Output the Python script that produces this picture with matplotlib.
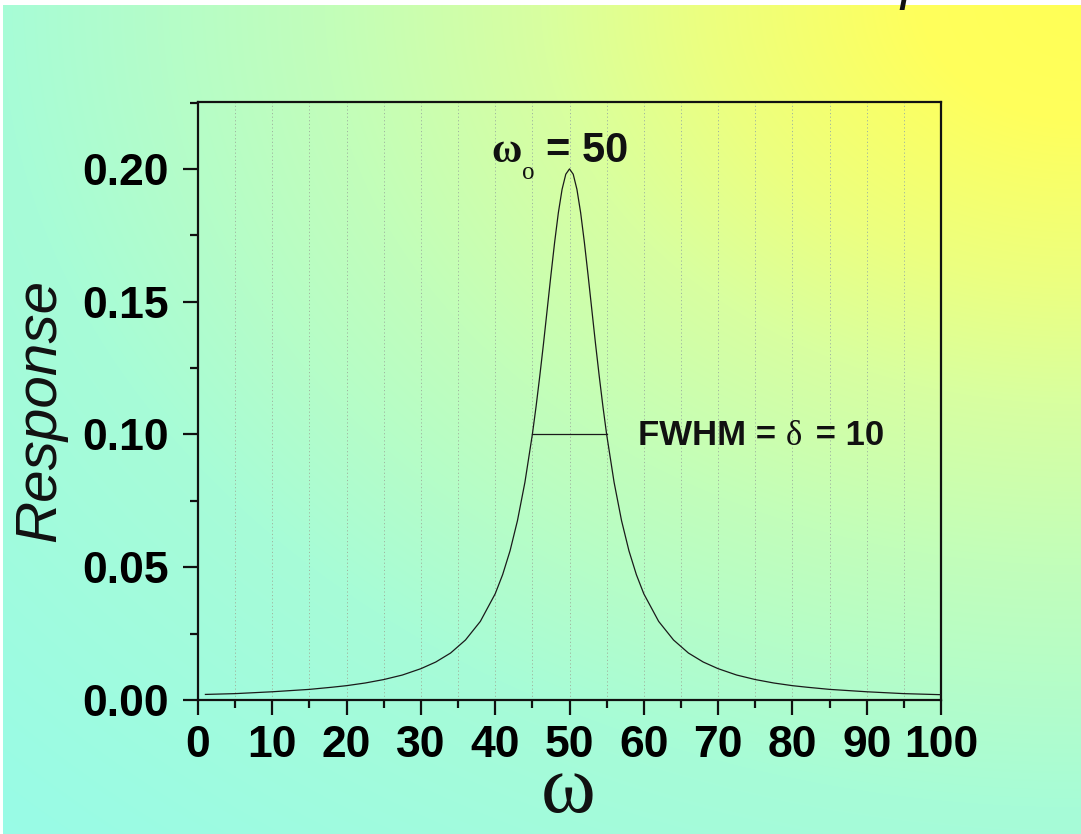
import numpy as np
import matplotlib
matplotlib.use("Agg")
import matplotlib.pyplot as plt
from matplotlib.patches import Rectangle

# ---- data ----
omega = [1, 5, 10, 15, 18, 20, 22.5, 25, 27.5, 30, 32, 34, 36, 38, 40, 41, 42, 43, 44, 45,
         45.5, 46, 46.5, 47, 47.5, 48, 48.5, 49, 49.5, 50,
         50.5, 51, 51.5, 52, 52.5, 53, 53.5, 54, 54.5, 55, 56, 57, 58, 59, 60, 62, 64,
         66, 68, 70, 72.5, 75, 77.5, 80, 82, 85, 90, 95, 100]
response = [0.0021, 0.0024, 0.0031, 0.0040, 0.0048, 0.0054, 0.0064, 0.0077, 0.0094,
            0.0118, 0.0143, 0.0177, 0.0226, 0.0296, 0.0400, 0.0472, 0.0562, 0.0676,
            0.0820, 0.1000, 0.1105, 0.1220, 0.1342, 0.1471, 0.1600, 0.1724, 0.1835,
            0.1923, 0.1980, 0.2000,
            0.1980, 0.1923, 0.1835, 0.1724, 0.1600, 0.1471, 0.1342, 0.1220, 0.1105,
            0.1000, 0.0820, 0.0676, 0.0562, 0.0472, 0.0400, 0.0296, 0.0226,
            0.0177, 0.0143, 0.0118, 0.0094, 0.0077, 0.0064, 0.0054, 0.0048, 0.0040,
            0.0031, 0.0024, 0.0020]
fwhm_x = [45, 55]
fwhm_y = [0.10, 0.10]
x_ticks = [0, 10, 20, 30, 40, 50, 60, 70, 80, 90, 100]
y_ticks = [0.00, 0.05, 0.10, 0.15, 0.20]
y_ticklabels = ["0.00", "0.05", "0.10", "0.15", "0.20"]

W, H = 1081, 834
fig = plt.figure(figsize=(W / 100, H / 100), dpi=100)

def fx(x):
    return x / W

def fy(y):
    return 1 - y / H

# ---- background gradient ----
bg = fig.add_axes([0, 0, 1, 1], zorder=0)
yy, xx = np.mgrid[0:H, 0:W]
dx = (W - xx) / W
dy = yy * 1.34 / W
d = np.sqrt(dx ** 2 + dy ** 2)
stops = [0, 0.15, 0.35, 0.5, 0.7, 1.0, 1.42]
cols = [(255, 255, 86), (255, 255, 92), (236, 255, 128), (216, 255, 160),
        (194, 254, 186), (167, 252, 215), (153, 251, 230)]
img = np.stack([np.interp(d, stops, [c[i] for c in cols]) for i in range(3)], -1) / 255
bg.imshow(img, aspect="auto", extent=[0, W, H, 0], interpolation="bilinear")
bg.set_xlim(0, W)
bg.set_ylim(H, 0)
bg.add_patch(Rectangle((0, 0), W, 5, color="white", lw=0))
bg.add_patch(Rectangle((0, 0), 3, H, color="white", lw=0))
bg.axis("off")

# ---- main axes ----
ax = fig.add_axes([fx(198), fy(700), (941 - 198) / W, (700 - 102) / H], zorder=1)
ax.set_facecolor("none")
ax.plot(omega, response, color="#1a1a1a", lw=0.9, zorder=3)
ax.plot(fwhm_x, fwhm_y, color="#1a1a1a", lw=0.9, zorder=3)
ax.set_xlim(0, 100)
ax.set_ylim(0, 0.2252)

for gx in range(5, 100, 5):
    ax.axvline(gx, color="#9fb59f", lw=0.7, ls=(0, (1.2, 2.5)), zorder=1)

ax.set_xticks(x_ticks)
ax.set_xticks(np.arange(5, 100, 10), minor=True)
ax.set_yticks(y_ticks)
ax.set_yticklabels(y_ticklabels)
ax.set_yticks([0.025, 0.075, 0.125, 0.175, 0.225], minor=True)
ax.tick_params(which="major", direction="out", length=11, width=1.6, color="#111111",
               pad=7, labelsize=32)
ax.tick_params(which="minor", direction="out", length=6, width=1.6, color="#111111")
ax.tick_params(axis="y", which="major", pad=10)
for lab in ax.get_xticklabels() + ax.get_yticklabels():
    lab.set_fontfamily("Liberation Sans")
    lab.set_fontweight("bold")
for s in ax.spines.values():
    s.set_linewidth(1.6)
    s.set_color("#111111")

# ---- axis labels ----
fig.text(fx(40), fy(410), "Response", rotation=90, ha="center", va="center",
         fontsize=42, fontstyle="italic", family="Liberation Sans", color="#111111")
fig.text(fx(568), fy(812), "\u03c9", ha="center", va="baseline",
         fontsize=60, family="Liberation Serif", color="#111111")

# ---- annotations ----
fig.text(fx(491), fy(162), "\u03c9", ha="left", va="baseline", fontsize=30,
         family="Liberation Serif", fontweight="bold", color="#111111")
fig.text(fx(522), fy(179), "o", ha="left", va="baseline", fontsize=18,
         family="Liberation Serif", color="#111111")
fig.text(fx(546), fy(162), "= 50", ha="left", va="baseline", fontsize=30,
         family="Liberation Sans", fontweight="bold", color="#111111")

renderer = fig.canvas.get_renderer()
xcur = 638
pieces = [("FWHM = ", "Liberation Sans", "bold"),
          ("\u03b4", "Liberation Serif", "normal"),
          (" = 10", "Liberation Sans", "bold")]
for txt, fam, wt in pieces:
    t = fig.text(fx(xcur), fy(445), txt, ha="left", va="baseline", fontsize=25,
                 family=fam, fontweight=wt, color="#111111")
    bb = t.get_window_extent(renderer=renderer)
    xcur += bb.width + (4 if txt == "\u03b4" else 0)

# cut-off title glyph at the top edge
fig.text(fx(900), fy(-2), "p", ha="left", va="baseline", fontsize=40,
         family="Liberation Sans", fontstyle="italic", color="#111111")

fig.savefig("out.png", dpi=100)
